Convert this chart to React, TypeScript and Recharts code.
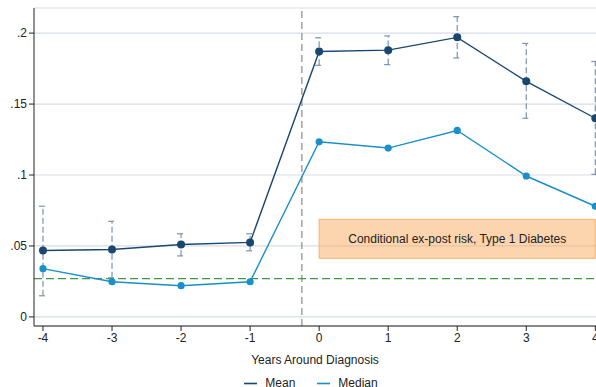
import React from "react";
import {
  ComposedChart,
  Line,
  XAxis,
  YAxis,
  CartesianGrid,
  ReferenceLine,
  ReferenceArea,
  ErrorBar,
  Legend,
} from "recharts";

const years = [-4, -3, -2, -1, 0, 1, 2, 3, 4];
const meanRisk = [0.0468, 0.0475, 0.051, 0.0525, 0.187, 0.188, 0.197, 0.166, 0.14];
const medianRisk = [0.034, 0.0248, 0.022, 0.0248, 0.1234, 0.119, 0.1314, 0.0993, 0.078];
const ciLow = [0.0149, 0.0276, 0.043, 0.0466, 0.1773, 0.1778, 0.1825, 0.14, 0.1005];
const ciHigh = [0.078, 0.0674, 0.0586, 0.0586, 0.1967, 0.198, 0.2116, 0.1927, 0.18];
const yTicks = [0, 0.05, 0.1, 0.15, 0.2];
const baselineRisk = 0.027;
const diagnosisLine = -0.25;
const boxLow = 0.0413;
const boxHigh = 0.0688;

const data = years.map((year, i) => ({
  year,
  mean: meanRisk[i],
  median: medianRisk[i],
  err: [meanRisk[i] - ciLow[i], ciHigh[i] - meanRisk[i]],
}));

const fmtY = (v: number) => (v === 0 ? "0" : String(v).replace(/^0/, ""));

const font = "'Liberation Sans', Arial, sans-serif";

export default function App() {
  return (
    <div
      style={{
        position: "absolute",
        left: 0,
        top: 0,
        width: 596,
        height: 387,
        overflow: "hidden",
        background: "#fff",
        fontFamily: font,
      }}
    >
      <ComposedChart
        width={596}
        height={402}
        data={data}
        margin={{ top: 8, right: 0, bottom: 4, left: 0 }}
      >
        <CartesianGrid vertical={false} stroke="#d6dee8" strokeWidth={1.2} />
        <ReferenceArea
          x1={0}
          x2={4}
          y1={boxLow}
          y2={boxHigh}
          fill="#f9a95e"
          fillOpacity={0.5}
          stroke="#f8b06e"
          strokeOpacity={1}
          label={{
            value: "Conditional ex-post risk, Type 1 Diabetes",
            position: "center",
            fill: "#222",
            fontSize: 12,
            fontFamily: font,
          }}
        />
        <XAxis
          type="number"
          dataKey="year"
          domain={[-4.13, 4.01]}
          ticks={years}
          allowDataOverflow
          interval={0}
          height={50}
          stroke="#222"
          tickLine={{ stroke: "#222" }}
          tickSize={5}
          tick={{ fill: "#222", fontSize: 12, fontFamily: font }}
          label={{
            value: "Years Around Diagnosis",
            position: "insideBottom",
            offset: 12,
            fill: "#222",
            fontSize: 12,
            fontFamily: font,
          }}
        />
        <YAxis
          type="number"
          domain={[-0.0064, 0.2177]}
          ticks={yTicks}
          allowDataOverflow
          width={34}
          stroke="#222"
          tickSize={5}
          tickFormatter={fmtY}
          tick={{ fill: "#222", fontSize: 12, fontFamily: font }}
        />
        <ReferenceLine x={diagnosisLine} stroke="#8a8a8a" strokeDasharray="7 4" strokeWidth={1.2} />
        <ReferenceLine y={baselineRisk} stroke="#3e9a3e" strokeDasharray="8 4" strokeWidth={1.2} />
        <Line
          type="linear"
          dataKey="mean"
          name="Mean"
          stroke="#1a476f"
          strokeWidth={1.4}
          dot={{ r: 4, fill: "#1a476f", stroke: "#1a476f", strokeWidth: 0 }}
          isAnimationActive={false}
        >
          <ErrorBar
            dataKey="err"
            direction="y"
            width={4}
            stroke="#7f93ab"
            strokeWidth={1.2}
            strokeDasharray="6 3"
          />
        </Line>
        <Line
          type="linear"
          dataKey="median"
          name="Median"
          stroke="#1a8fc8"
          strokeWidth={1.4}
          dot={{ r: 3.6, fill: "#1a8fc8", stroke: "#1a8fc8", strokeWidth: 0 }}
          isAnimationActive={false}
        />
        <Legend
          verticalAlign="bottom"
          height={22}
          iconType="plainline"
          iconSize={13}
          wrapperStyle={{ fontSize: 12, fontFamily: font, color: "#222", paddingLeft: 24 }}
          formatter={(v: string) => (
            <span style={{ color: "#222", marginLeft: 4, marginRight: 12 }}>{v}</span>
          )}
        />
      </ComposedChart>
    </div>
  );
}
